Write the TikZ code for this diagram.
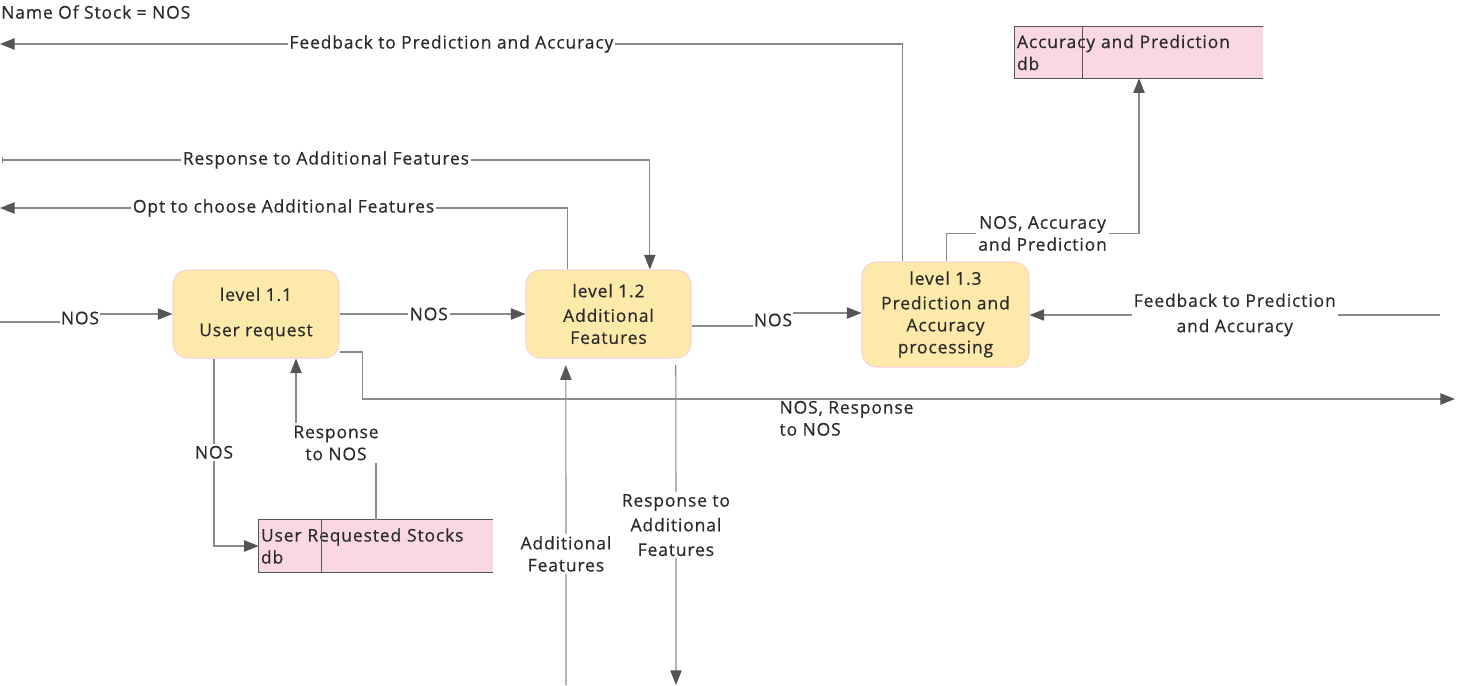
\documentclass[tikz,border=0pt]{standalone}
\usepackage{fontspec}
\setmainfont{Open Sans}[LetterSpace=5, FakeBold=0.5]
\usetikzlibrary{arrows.meta}
\definecolor{procfill}{HTML}{FDE9A9}
\definecolor{procline}{HTML}{F6D3D6}
\definecolor{storefill}{HTML}{F9D8E3}
\definecolor{wire}{HTML}{8A8A8A}
\definecolor{tip}{HTML}{555555}
\definecolor{txt}{HTML}{2A2A2A}

\begin{document}
\begin{tikzpicture}[x=0.75pt, y=-0.75pt,
  every node/.style={text=txt, font=\fontsize{13.1}{16.5}\selectfont},
  process/.style={draw=procline, line width=0.8pt, fill=procfill, rounded corners=11pt, align=center},
  store/.style={fill=storefill, inner xsep=1.5pt, inner ysep=0pt, align=left},
  plain/.style={draw=wire, line width=0.9pt},
  flow/.style={plain, -{Triangle[length=11pt, width=8.5pt, color=tip]}},
  lbl/.style={fill=white, inner sep=1.5pt, align=center}]

\useasboundingbox (0,0) rectangle (1469,685);

\node[anchor=west, inner sep=0pt] (title) at (1,12) {Name Of Stock = NOS};

\node[process, minimum width=124.5pt, minimum height=66pt] (lvA) at (256,314) {level 1.1\\[10pt]User request};
\node[process, minimum width=123.75pt, minimum height=66pt] (lvB) at (608.5,314) {level 1.2\\[2pt]Additional\\Features};
\node[process, minimum width=125.25pt, minimum height=78.75pt] (lvC) at (945.5,314.5) {level 1.3\\[2pt]Prediction and\\Accuracy\\processing};

\node[store, minimum width=175.5pt, minimum height=39pt, text width=172.5pt] (userdb) at (376,546) {User Requested Stocks\\db};
\node[store, minimum width=186pt, minimum height=38.25pt, text width=183pt] (accdb) at (1139,52.5) {Accuracy and Prediction\\db};

\draw[tip, line width=0.8pt] (userdb.north east) -- (userdb.north west) -- (userdb.south west) -- (userdb.south east);
\draw[tip, line width=0.6pt] ([xshift=47.25pt]userdb.north west) -- ([xshift=47.25pt]userdb.south west);
\draw[tip, line width=0.8pt] (accdb.north east) -- (accdb.north west) -- (accdb.south west) -- (accdb.south east);
\draw[tip, line width=0.6pt] ([xshift=51pt]accdb.north west) -- ([xshift=51pt]accdb.south west);

\coordinate (fbout) at (0,44);
\coordinate (rafleft) at (2,160);
\coordinate (optout) at (0,208);
\coordinate (nosin) at (0,322);
\coordinate (nosout) at (1455,399);
\coordinate (fbin) at (1440,315);
\coordinate (afin) at (566,685);
\coordinate (rafout) at (676,685);

\draw[flow] ([xshift=-32pt]lvC.north) |- node[lbl, pos=0.75] {Feedback to Prediction and Accuracy} (fbout);
\draw[flow, {Bar[width=5pt]}-{Triangle[length=11pt, width=8.5pt, color=tip]}] (rafleft) -| node[lbl, pos=0.25] {Response to Additional Features} ([xshift=31pt]lvB.north);
\draw[flow] ([xshift=-31pt]lvB.north) |- node[lbl, pos=0.75] {Opt to choose Additional Features} (optout);

\node[lbl, inner sep=0.5pt] (nosA) at (80,318) {NOS};
\draw[plain] (nosin) -- (nosin -| nosA.west);
\draw[flow] (nosA.east |- lvA.west) -- (lvA.west);

\draw[flow] (lvA.east) -- node[lbl, pos=0.48] {NOS} (lvB.west);

\node[lbl, inner sep=0.5pt] (nosB) at (773,320) {NOS};
\draw[plain] ([yshift=-9pt]lvB.east) -- ([yshift=-9pt]lvB.east -| nosB.west);
\draw[flow] (nosB.east |- 0,313) -- (lvC.west |- 0,313);

\draw[flow] (fbin) -- node[lbl, font=\fontsize{13.1}{19}\selectfont] {Feedback to Prediction\\and Accuracy} (lvC.east |- fbin);

\draw[flow] ([yshift=-28.5pt]lvA.east) -- ++(23,0) |- node[pos=0.69, anchor=north west, align=left, inner sep=1pt] {NOS, Response\\to NOS} (nosout);
\draw[flow] ([xshift=-31.5pt]lvA.south) |- node[lbl, pos=0.25] {NOS} (userdb.west);

\node[lbl] (respnos) at (336,443) {Response\\to NOS};
\draw[plain] (userdb.north) -- (userdb.north |- respnos.south);
\draw[flow] ([xshift=30pt]lvA.south |- respnos.north) -- ([xshift=30pt]lvA.south);

\draw[flow] ([xshift=0.5pt]lvC.north) -- ++(0,-28) -| node[lbl, pos=0.25] {NOS, Accuracy\\and Prediction} (accdb.south);

\draw[flow] (afin) -- node[lbl, pos=0.41] {Additional\\Features} ([xshift=-32pt, yshift=-5pt]lvB.south);
\draw[flow] ([xshift=50.5pt, yshift=-5pt]lvB.south) -- node[lbl, pos=0.5, font=\fontsize{13.1}{18.5}\selectfont] {Response to\\Additional\\Features} (rafout);

\end{tikzpicture}
\end{document}
